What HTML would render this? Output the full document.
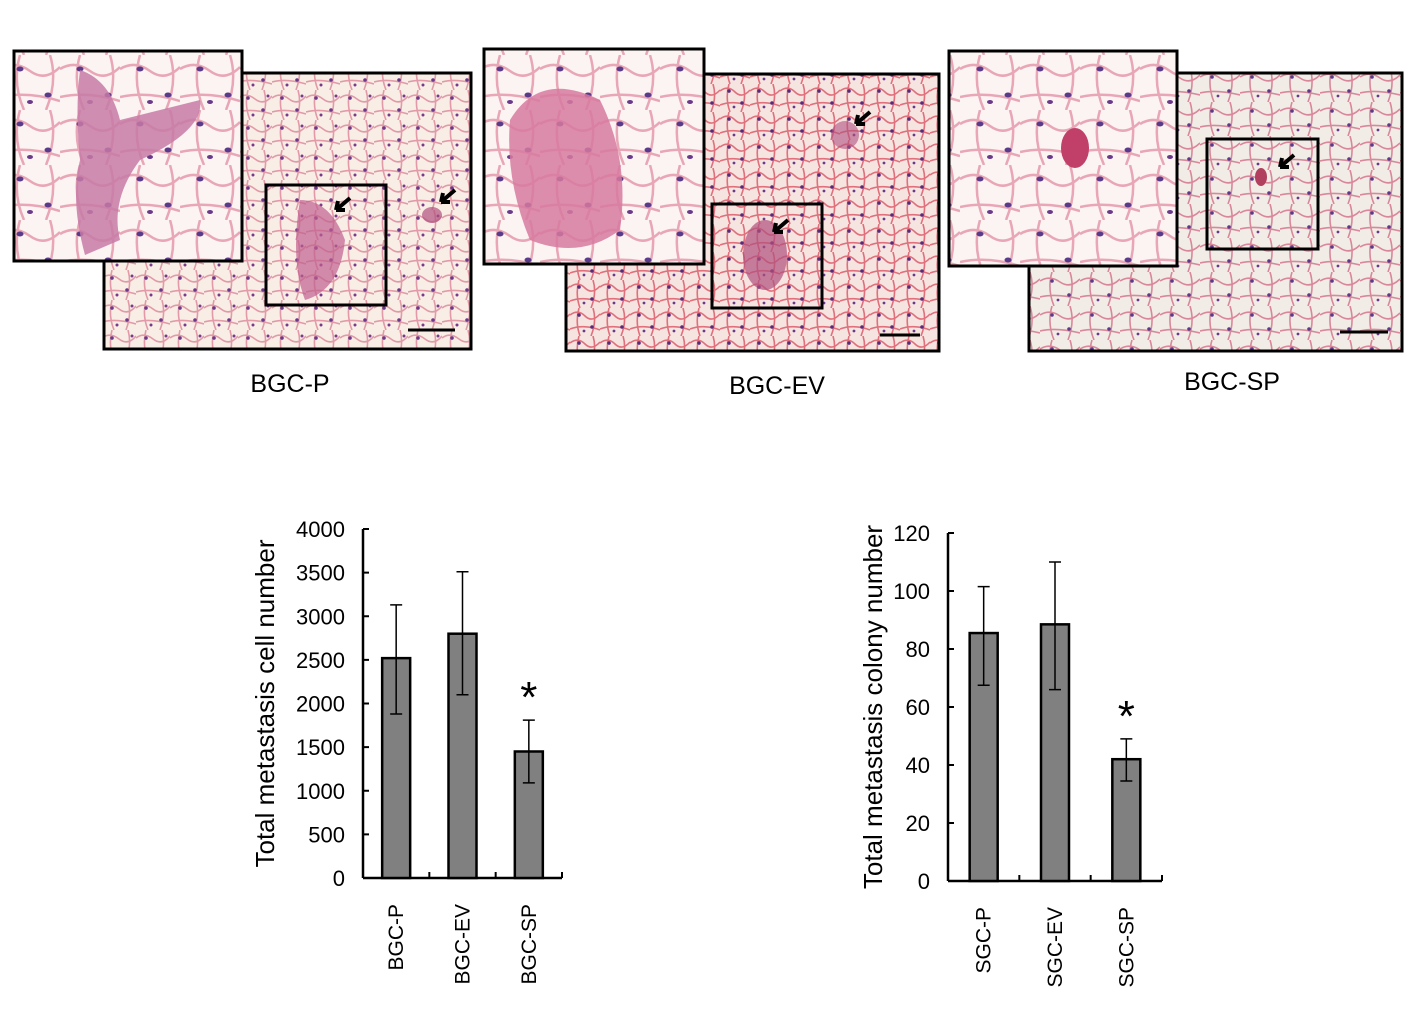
<!DOCTYPE html>
<html><head><meta charset="utf-8"><style>
html,body{margin:0;padding:0;background:#fff;}
svg{display:block;font-family:"Liberation Sans",sans-serif;}
</style></head><body>
<svg width="1417" height="1009" viewBox="0 0 1417 1009">
<defs>
 <pattern id="lung" width="34" height="30" patternUnits="userSpaceOnUse">
  <rect width="34" height="30" fill="#f8eee6"/>
  <path d="M0 8 Q8 2 17 9 T34 6 M10 0 Q6 15 12 30 M26 0 Q30 14 24 30 M0 22 Q14 18 34 24" stroke="#e29aa8" stroke-width="1.6" fill="none"/>
  <circle cx="10" cy="8" r="1.8" fill="#6a3a8a"/><circle cx="25" cy="20" r="1.8" fill="#6a3a8a"/><circle cx="15" cy="25" r="1.5" fill="#7a3a8a"/><circle cx="30" cy="6" r="1.5" fill="#7a3a8a"/>
 </pattern>
 <pattern id="lungred" width="30" height="28" patternUnits="userSpaceOnUse">
  <rect width="30" height="28" fill="#f6e4e0"/>
  <path d="M0 7 Q8 1 15 8 T30 6 M9 0 Q5 14 10 28 M23 0 Q27 13 21 28 M0 21 Q14 16 30 22" stroke="#e0707c" stroke-width="1.6" fill="none"/>
  <circle cx="9" cy="7" r="1.8" fill="#5a2a7a"/><circle cx="22" cy="19" r="1.8" fill="#5a2a7a"/><circle cx="14" cy="23" r="1.4" fill="#6a3a8a"/>
 </pattern>
 <pattern id="lungwhite" width="40" height="34" patternUnits="userSpaceOnUse">
  <rect width="40" height="34" fill="#f1ece6"/>
  <path d="M0 9 Q10 3 20 10 T40 7 M12 0 Q7 17 14 34 M30 0 Q35 16 28 34 M0 25 Q16 21 40 27" stroke="#d9879a" stroke-width="1.6" fill="none"/>
  <circle cx="12" cy="9" r="1.8" fill="#5a3a8a"/><circle cx="29" cy="23" r="1.8" fill="#5a3a8a"/><circle cx="18" cy="28" r="1.4" fill="#6a3a8a"/>
 </pattern>
 <pattern id="inset" width="60" height="55" patternUnits="userSpaceOnUse">
  <rect width="60" height="55" fill="#fbf4f2"/>
  <path d="M0 14 Q15 5 30 16 T60 12 M20 0 Q12 28 24 55 M50 0 Q58 26 46 55 M0 42 Q28 36 60 46" stroke="#e8a6b6" stroke-width="2.5" fill="none"/>
  <ellipse cx="20" cy="14" rx="3.5" ry="2.5" fill="#5a3a8a"/><ellipse cx="48" cy="40" rx="3.5" ry="2.5" fill="#5a3a8a"/><ellipse cx="30" cy="47" rx="3" ry="2" fill="#6a3a8a"/>
 </pattern>
</defs>

<g>
 <rect x="104" y="73" width="367" height="276" fill="url(#lung)" stroke="#000" stroke-width="3"/>
 <path d="M300 200 Q330 200 345 240 Q340 290 305 300 Q290 260 300 200Z" fill="#c0608e" opacity="0.7"/>
 <ellipse cx="432" cy="215" rx="10" ry="8" fill="#b0507e" opacity="0.7"/>
 <rect x="266" y="185" width="120" height="120" fill="none" stroke="#000" stroke-width="3"/>
 <rect x="14" y="51" width="228" height="210" fill="url(#inset)" stroke="#000" stroke-width="3"/>
 <path d="M80 70 Q110 80 120 120 Q160 110 200 100 Q205 130 140 160 Q110 200 120 240 L85 255 Q70 200 80 160 Q75 110 80 70Z" fill="#c77aa6" opacity="0.85"/>
 <path d="M350 198 l-14 12 M336 210 l2-9 M336 210 l9 0" stroke="#000" stroke-width="4"/>
 <path d="M455 190 l-14 12 M441 202 l2-9 M441 202 l9 0" stroke="#000" stroke-width="4"/>
 <line x1="408" y1="330" x2="455" y2="330" stroke="#000" stroke-width="3"/>
 <text x="290" y="392" font-size="25" text-anchor="middle">BGC-P</text>
</g>

<g>
 <rect x="566" y="74" width="373" height="277" fill="url(#lungred)" stroke="#000" stroke-width="3"/>
 <ellipse cx="765" cy="255" rx="22" ry="35" fill="#b0507e" opacity="0.7"/>
 <ellipse cx="845" cy="135" rx="14" ry="14" fill="#b0507e" opacity="0.6"/>
 <rect x="712" y="204" width="110" height="104" fill="none" stroke="#000" stroke-width="3"/>
 <rect x="484" y="49" width="220" height="215" fill="url(#inset)" stroke="#000" stroke-width="3"/>
 <path d="M510 120 Q540 70 600 100 Q630 160 620 230 Q580 260 530 240 Q505 180 510 120Z" fill="#d77aa0" opacity="0.85"/>
 <path d="M870 112 l-14 12 M856 124 l2-9 M856 124 l9 0" stroke="#000" stroke-width="4"/>
 <path d="M788 220 l-14 12 M774 232 l2-9 M774 232 l9 0" stroke="#000" stroke-width="4"/>
 <line x1="880" y1="335" x2="920" y2="335" stroke="#000" stroke-width="3"/>
 <text x="777" y="394" font-size="25" text-anchor="middle">BGC-EV</text>
</g>

<g>
 <rect x="1029" y="73" width="373" height="278" fill="url(#lungwhite)" stroke="#000" stroke-width="3"/>
 <rect x="1207" y="139" width="111" height="110" fill="none" stroke="#000" stroke-width="3"/>
 <ellipse cx="1261" cy="177" rx="6" ry="9" fill="#b0405e"/>
 <rect x="949" y="51" width="228" height="215" fill="url(#inset)" stroke="#000" stroke-width="3"/>
 <ellipse cx="1075" cy="148" rx="14" ry="20" fill="#c0406a"/>
 <path d="M1294 155 l-14 12 M1280 167 l2-9 M1280 167 l9 0" stroke="#000" stroke-width="4"/>
 <line x1="1340" y1="332" x2="1388" y2="332" stroke="#000" stroke-width="3"/>
 <text x="1232" y="390" font-size="25" text-anchor="middle">BGC-SP</text>
</g>

<g id="chart1"></g>
<g id="chart2"></g>
</svg>
<script>
const cats1 = ["BGC-P","BGC-EV","BGC-SP"];
const vals1 = [2520, 2800, 1450];
const errHi1 = [3130, 3510, 1810];
const errLo1 = [1880, 2100, 1090];
const ticks1 = [0,500,1000,1500,2000,2500,3000,3500,4000];
const cats2 = ["SGC-P","SGC-EV","SGC-SP"];
const vals2 = [85.5, 88.5, 42];
const errHi2 = [101.5, 110, 49];
const errLo2 = [67.5, 66, 34.5];
const ticks2 = [0,20,40,60,80,100,120];
const NS="http://www.w3.org/2000/svg";
function mk(p,t,a){const e=document.createElementNS(NS,t);for(const k in a)e.setAttribute(k,a[k]);p.appendChild(e);return e;}
function draw(gid,cats,vals,hi,lo,ticks,ax,y0,y1,xr,title,titleX){
 const g=document.getElementById(gid);
 const max=ticks[ticks.length-1];
 const y=v=>y0-(v/max)*(y0-y1);
 const bw=(xr-ax)/cats.length;
 const x=i=>ax+bw*(i+0.5);
 let e;
 e=mk(g,'line',{x1:ax,y1:y1,x2:ax,y2:y0,stroke:'#000','stroke-width':2.5});
 
 e=mk(g,'line',{x1:ax,y1:y0,x2:xr,y2:y0,stroke:'#000','stroke-width':2.5});
 
 ticks.forEach(t=>{
  e=mk(g,'line',{x1:ax,y1:y(t),x2:ax+6,y2:y(t),stroke:'#000','stroke-width':2});
  
  e=mk(g,'text',{x:ax-18,y:y(t)+8,'font-size':22,'text-anchor':'end'});e.textContent=t;
  
 });
 for(let i=1;i<=cats.length;i++){
  e=mk(g,'line',{x1:ax+bw*i,y1:y0,x2:ax+bw*i,y2:y0-6,stroke:'#000','stroke-width':2});
  
 }
 cats.forEach((c,i)=>{
  const w=28;
  e=mk(g,'rect',{x:x(i)-w/2,y:y(vals[i]),width:w,height:y0-y(vals[i]),fill:'#808080',stroke:'#000','stroke-width':2.5});
  
  e=mk(g,'path',{d:`M${x(i)} ${y(hi[i])}V${y(lo[i])}M${x(i)-6} ${y(hi[i])}h12M${x(i)-6} ${y(lo[i])}h12`,stroke:'#000','stroke-width':1.5,fill:'none'});
  
  const tx=x(i)+7,ty=y0+26;
  e=mk(g,'text',{x:tx,y:ty,'font-size':21,'text-anchor':'end',transform:`rotate(-90 ${tx} ${ty})`});e.textContent=c;
  
 });
 const si=cats.length-1;
 e=mk(g,'text',{x:x(si),y:y(hi[si])-8,'font-size':44,'text-anchor':'middle'});e.textContent='*';
 
 const ty=(y0+y1)/2, tx=titleX;
 e=mk(g,'text',{x:tx,y:ty,'font-size':26,'text-anchor':'middle',transform:`rotate(-90 ${tx} ${ty})`});e.textContent=title;
 
}
draw('chart1',cats1,vals1,errHi1,errLo1,ticks1,363,878,529,562,'Total  metastasis cell number',274);
draw('chart2',cats2,vals2,errHi2,errLo2,ticks2,948,881,533,1162,'Total metastasis colony number',882);
</script>
</body></html>
